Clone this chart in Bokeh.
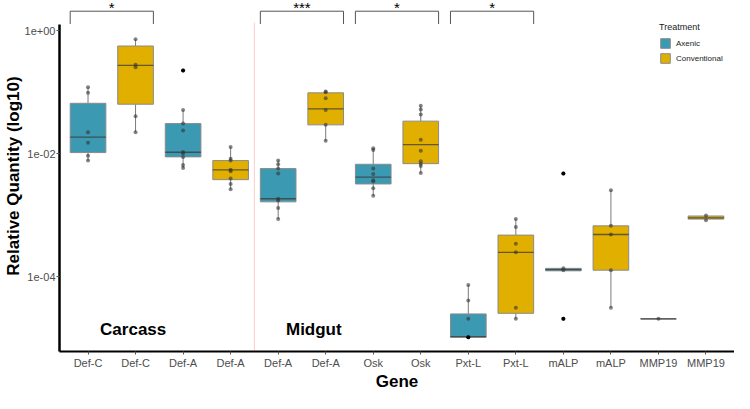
import math
from bokeh.plotting import figure
from bokeh.models import (Range1d, FixedTicker, CustomJSTickFormatter, ColumnDataSource)
from bokeh.core.properties import value
from bokeh.embed import file_html
from bokeh.resources import INLINE

# ---------------- data (log10 of relative quantity) -------------
genes = ["Def-C", "Def-C", "Def-A", "Def-A", "Def-A", "Def-A", "Osk", "Osk",
         "Pxt-L", "Pxt-L", "mALP", "mALP", "MMP19", "MMP19"]
treatments = ["Axenic", "Conventional"] * 7

upper = [-0.92, -0.14, -1.29, -1.89, -2.11, -0.99, -1.91, -1.22, -4.13, -3.06, -3.86, -2.59, -4.68, -3.00]
q3 = [-1.18, -0.25, -1.51, -2.11, -2.24, -1.01, -2.17, -1.47, -4.60, -3.32, -3.86, -3.17, -4.68, -3.01]
median = [-1.73, -0.565, -1.975, -2.26, -2.73, -1.27, -2.38, -1.85, -4.97, -3.60, -3.88, -3.31, -4.68, -3.04]
q1 = [-1.98, -1.195, -2.05, -2.42, -2.78, -1.53, -2.49, -2.16, -4.98, -4.59, -3.90, -3.89, -4.68, -3.06]
lower = [-2.11, -1.65, -2.23, -2.575, -3.06, -1.79, -2.68, -2.31, -4.98, -4.68, -3.90, -4.50, -4.68, -3.08]

points = [
    [-0.92, -1.01, -1.65, -1.82, -2.03, -2.11],
    [-0.14, -0.555, -0.595, -1.39, -1.65],
    [-0.646, -1.29, -1.51, -1.62, -1.97, -1.99, -2.05, -2.18, -2.23],
    [-1.89, -2.08, -2.11, -2.26, -2.285, -2.40, -2.49, -2.575],
    [-2.11, -2.17, -2.24, -2.32, -2.73, -2.76, -2.88, -3.06],
    [-0.99, -1.00, -1.10, -1.29, -1.53, -1.79],
    [-1.91, -1.94, -2.24, -2.33, -2.43, -2.45, -2.56, -2.68],
    [-1.22, -1.28, -1.36, -1.77, -1.95, -2.12, -2.16, -2.20, -2.31],
    [-4.13, -4.38, -4.68, -4.98],
    [-3.06, -3.19, -3.46, -3.60, -4.50, -4.68],
    [-2.32, -3.86, -3.89, -4.68],
    [-2.59, -3.17, -3.31, -3.89, -4.50],
    [-4.68],
    [-3.00, -3.08],
]
outliers = [[], [], [-0.646], [], [], [], [], [], [-4.98], [], [-2.32, -4.68], [], [], []]

comparisons = [(1, 2, "*"), (5, 6, "***"), (7, 8, "*"), (9, 10, "*")]
tissue_labels = ["Carcass", "Midgut"]
tissue_x = [1.95, 5.75]
tissue_y = [-4.855, -4.855]

COLORS = {"Axenic": "#3B9AB2", "Conventional": "#E1AF00"}
FONT = "Liberation Sans"
BW = 0.375
Y_LO, Y_HI, PANEL_TOP = -5.21, 0.489, 0.107
BRACKET_Y = 0.315

p = figure(width=734, height=393, x_range=Range1d(0.4, 14.6),
           y_range=Range1d(10 ** Y_LO, 10 ** Y_HI), y_axis_type="log",
           output_backend="svg", toolbar_location=None,
           min_border_left=50, min_border_right=0, min_border_top=0, min_border_bottom=0)
p.xgrid.visible = False
p.ygrid.visible = False
p.outline_line_color = None
p.background_fill_color = "white"

xs = list(range(1, len(genes) + 1))

# separator line between carcass and midgut
p.segment(x0=[4.5], y0=[10 ** Y_LO], x1=[4.5], y1=[10 ** 0.13], line_color="#F8766D",
          line_alpha=0.45, line_width=0.8)

# whiskers
p.segment(x0=xs, y0=[10 ** v for v in q3], x1=xs, y1=[10 ** v for v in upper],
          line_color="#7a7a7a", line_width=1)
p.segment(x0=xs, y0=[10 ** v for v in q1], x1=xs, y1=[10 ** v for v in lower],
          line_color="#7a7a7a", line_width=1)

# boxes
for tr in ["Axenic", "Conventional"]:
    idx = [i for i, t in enumerate(treatments) if t == tr]
    src = ColumnDataSource(dict(
        left=[xs[i] - BW for i in idx], right=[xs[i] + BW for i in idx],
        top=[10 ** q3[i] for i in idx], bottom=[10 ** q1[i] for i in idx]))
    p.quad(left="left", right="right", top="top", bottom="bottom", source=src,
           fill_color=COLORS[tr], line_color="#8a8a8a", line_width=1, legend_label=tr)

# medians
p.segment(x0=[x - BW for x in xs], y0=[10 ** v for v in median],
          x1=[x + BW for x in xs], y1=[10 ** v for v in median],
          line_color="#3a3a3a", line_alpha=0.75, line_width=1.3)

# points
px, py = [], []
for x, pts in zip(xs, points):
    for v in pts:
        px.append(x)
        py.append(10 ** v)
p.scatter(px, py, size=4, fill_color="#333333", fill_alpha=0.6, line_color=None)
ox, oy = [], []
for x, pts in zip(xs, outliers):
    for v in pts:
        ox.append(x)
        oy.append(10 ** v)
p.scatter(ox, oy, size=4, fill_color="black", line_color=None)

# significance brackets
for a, b, star in comparisons:
    l, r = a - BW, b + BW
    p.segment(x0=[l, l, r], y0=[10 ** BRACKET_Y, 10 ** BRACKET_Y, 10 ** BRACKET_Y],
              x1=[r, l, r], y1=[10 ** BRACKET_Y, 10 ** PANEL_TOP, 10 ** PANEL_TOP],
              line_color="#555555", line_width=1)
    p.text(x=[(a + b) / 2], y=[10 ** Y_HI], text=[star], text_align="center",
           text_baseline="top", y_offset=-2, text_font=value(FONT), text_font_size="15px",
           text_color="black")

# tissue labels
p.text(x=tissue_x, y=[10 ** v for v in tissue_y], text=tissue_labels,
       text_align="center", text_baseline="middle", text_font=value(FONT),
       text_font_size="17px", text_font_style="bold", text_color="black")

# axes
p.xaxis.ticker = FixedTicker(ticks=xs)
p.xaxis.major_label_overrides = {x: g for x, g in zip(xs, genes)}
p.xaxis.axis_label = "Gene"
p.xaxis.axis_label_standoff = 0
p.xaxis.major_label_standoff = 2
p.xaxis.axis_line_width = 2.2
p.xaxis.axis_line_color = "black"
p.xaxis.minor_tick_line_color = None
p.xaxis.major_tick_line_color = "#555555"
p.xaxis.major_tick_out = 3
p.xaxis.major_tick_in = 0

p.yaxis.ticker = FixedTicker(ticks=[1e-4, 1e-2, 1.0], minor_ticks=[])
p.yaxis.formatter = CustomJSTickFormatter(code="""
    const e = Math.round(Math.log10(tick));
    const s = e < 0 ? "-" : "+";
    const a = Math.abs(e);
    return "1e" + s + (a < 10 ? "0" + a : "" + a);
""")
p.yaxis.bounds = (10 ** Y_LO, 10 ** PANEL_TOP)
p.yaxis.axis_label = "Relative Quantity (log10)"
p.yaxis.axis_label_standoff = -1
p.yaxis.axis_line_width = 2.5
p.yaxis.axis_line_color = "black"
p.yaxis.minor_tick_line_color = None
p.yaxis.major_tick_line_color = "#555555"
p.yaxis.major_tick_out = 3
p.yaxis.major_tick_in = 0
p.yaxis.major_label_standoff = 1

for ax in (p.xaxis, p.yaxis):
    ax.major_label_text_font = FONT
    ax.major_label_text_font_size = "11px"
    ax.major_label_text_color = "#4d4d4d"
    ax.axis_label_text_font = FONT
    ax.axis_label_text_font_size = "17px"
    ax.axis_label_text_font_style = "bold"
    ax.axis_label_text_color = "black"

# legend
lg = p.legend[0]
lg.title = "Treatment"
lg.title_text_font = FONT
lg.title_text_font_size = "9px"
lg.title_text_font_style = "normal"
lg.title_text_color = "#222222"
lg.label_text_font = FONT
lg.label_text_font_size = "8px"
lg.label_text_color = "#222222"
lg.glyph_width = 12
lg.glyph_height = 12
lg.label_height = 12
lg.spacing = 3
lg.padding = 2
lg.margin = 0
lg.location = (600, 287)
lg.background_fill_alpha = 0
lg.border_line_color = None

open("out.html", "w").write(file_html(p, INLINE))
